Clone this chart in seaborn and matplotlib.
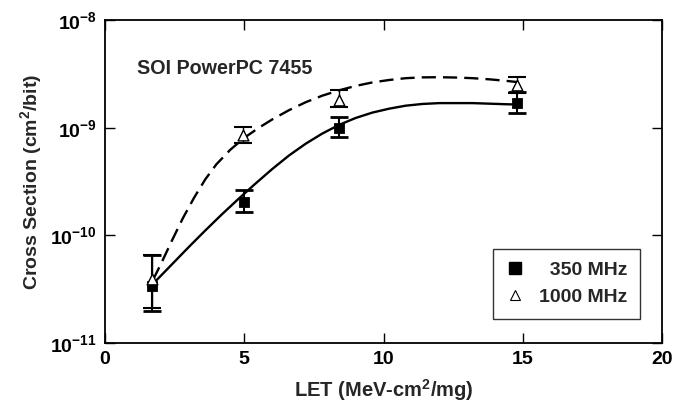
import seaborn as sns
import matplotlib
matplotlib.use("Agg")
import matplotlib.pyplot as plt
from matplotlib.lines import Line2D
import numpy as np

# measured points (LET in MeV-cm2/mg, cross section in cm2/bit)
let_350 = [1.7, 5.0, 8.4, 14.8]
xs_350 = [3.4e-11, 2.05e-10, 1.0e-9, 1.68e-9]
lo_350 = [2.0e-11, 1.65e-10, 8.2e-10, 1.37e-9]
hi_350 = [6.6e-11, 2.65e-10, 1.26e-9, 2.14e-9]

let_1000 = [1.7, 4.95, 8.4, 14.8]
xs_1000 = [3.9e-11, 8.5e-10, 1.8e-9, 2.5e-9]
lo_1000 = [2.1e-11, 7.2e-10, 1.56e-9, 2.1e-9]
hi_1000 = [6.6e-11, 1.02e-9, 2.24e-9, 2.96e-9]

# fitted curves
fit_let_350 = [1.8, 2.4, 3.0, 3.6, 4.2, 4.8, 5.4, 6.0, 6.6, 7.2, 7.8, 8.4,
               9.0, 9.6, 10.2, 10.8, 11.4, 12.0, 12.6, 13.2, 13.8, 14.4, 14.8]
fit_xs_350 = [3.72e-11, 5.37e-11, 7.76e-11, 1.11e-10, 1.57e-10, 2.19e-10, 3.02e-10, 4.12e-10,
              5.50e-10, 7.08e-10, 8.81e-10, 1.06e-9, 1.23e-9, 1.38e-9, 1.50e-9, 1.60e-9,
              1.66e-9, 1.69e-9, 1.69e-9, 1.69e-9, 1.67e-9, 1.65e-9, 1.64e-9]
fit_let_1000 = [1.72, 2.0, 2.4, 2.8, 3.2, 3.6, 4.0, 4.5, 5.0, 5.5, 6.0, 6.6, 7.2, 7.8,
                8.4, 9.0, 9.6, 10.2, 10.8, 11.4, 12.0, 12.6, 13.2, 13.8, 14.4, 14.8]
fit_xs_1000 = [3.85e-11, 5.37e-11, 8.91e-11, 1.45e-10, 2.24e-10, 3.31e-10, 4.57e-10, 6.24e-10,
               8.04e-10, 9.89e-10, 1.19e-9, 1.45e-9, 1.72e-9, 1.98e-9, 2.22e-9, 2.44e-9,
               2.63e-9, 2.77e-9, 2.88e-9, 2.93e-9, 2.94e-9, 2.92e-9, 2.88e-9, 2.81e-9,
               2.72e-9, 2.65e-9]

labels = ["  350 MHz", "1000 MHz"]

if __name__ == '__main__':
    sns.set_theme(style="ticks")
    plt.rcParams['font.family'] = ['Liberation Sans', 'DejaVu Sans']
    plt.rcParams['font.weight'] = 'bold'
    plt.rcParams['mathtext.fontset'] = 'custom'
    plt.rcParams['mathtext.rm'] = 'Liberation Sans:bold'
    plt.rcParams['mathtext.bf'] = 'Liberation Sans:bold'
    plt.rcParams['mathtext.it'] = 'Liberation Sans:bold'
    plt.rcParams['mathtext.default'] = 'bf'

    fig = plt.figure(figsize=(6.73, 4.07), dpi=100)
    ax = fig.add_axes([0.156, 0.157, 0.8277, 0.794])

    sns.lineplot(x=fit_let_350, y=fit_xs_350, ax=ax, sort=False, color='black', lw=1.7)
    sns.lineplot(x=fit_let_1000, y=fit_xs_1000, ax=ax, sort=False, color='black', lw=1.7,
                 linestyle=(0, (6, 3)))

    xs350 = np.array(xs_350)
    xs1000 = np.array(xs_1000)
    ax.errorbar(let_350, xs350, yerr=[xs350 - np.array(lo_350), np.array(hi_350) - xs350],
                fmt='none', ecolor='black', elinewidth=1.5, capsize=6.5, capthick=2)
    ax.errorbar(let_1000, xs1000, yerr=[xs1000 - np.array(lo_1000), np.array(hi_1000) - xs1000],
                fmt='none', ecolor='black', elinewidth=1.0, capsize=6.5, capthick=1.5)
    sns.scatterplot(x=let_350, y=xs_350, ax=ax, marker='s', s=55, color='black',
                    edgecolor='black', zorder=5)
    sns.scatterplot(x=let_1000, y=xs_1000, ax=ax, marker='^', s=60, facecolor='white',
                    edgecolor='black', linewidth=1.0, zorder=6)

    ax.set_yscale('log')
    ax.set_xlim(0, 20)
    ax.set_ylim(1e-11, 1e-8)
    ax.set_xticks([0, 5, 10, 15, 20])
    ax.set_yticks([1e-11, 1e-10, 1e-9, 1e-8])
    ax.minorticks_off()
    ax.tick_params(direction='in', length=7, width=1, top=True, right=True,
                   labelsize=14, pad=6, colors='black')
    for s in ax.spines.values():
        s.set_linewidth(1.3)
        s.set_color('black')

    ax.set_xlabel('LET (MeV-cm$^{2}$/mg)', fontsize=14.5, fontweight='bold', labelpad=6)
    ax.set_ylabel('Cross Section (cm$^{2}$/bit)', fontsize=14, fontweight='bold', labelpad=4)
    ax.text(0.057, 0.851, 'SOI PowerPC 7455', transform=ax.transAxes, fontsize=14.2,
            fontweight='bold', va='center', ha='left')

    handles = [Line2D([], [], marker='s', ls='none', color='black', markersize=8.5),
               Line2D([], [], marker='^', ls='none', markerfacecolor='white',
                      markeredgecolor='black', markersize=7.5, markeredgewidth=0.8)]
    leg = ax.legend(handles, labels, loc='lower right', bbox_to_anchor=(0.96, 0.075),
                    borderaxespad=0, fontsize=14, frameon=True, fancybox=False,
                    edgecolor='black', handletextpad=0.7, labelspacing=0.5,
                    borderpad=0.65, handlelength=1.0)
    leg.get_frame().set_linewidth(1.0)

    fig.savefig('out.png', dpi=100)
